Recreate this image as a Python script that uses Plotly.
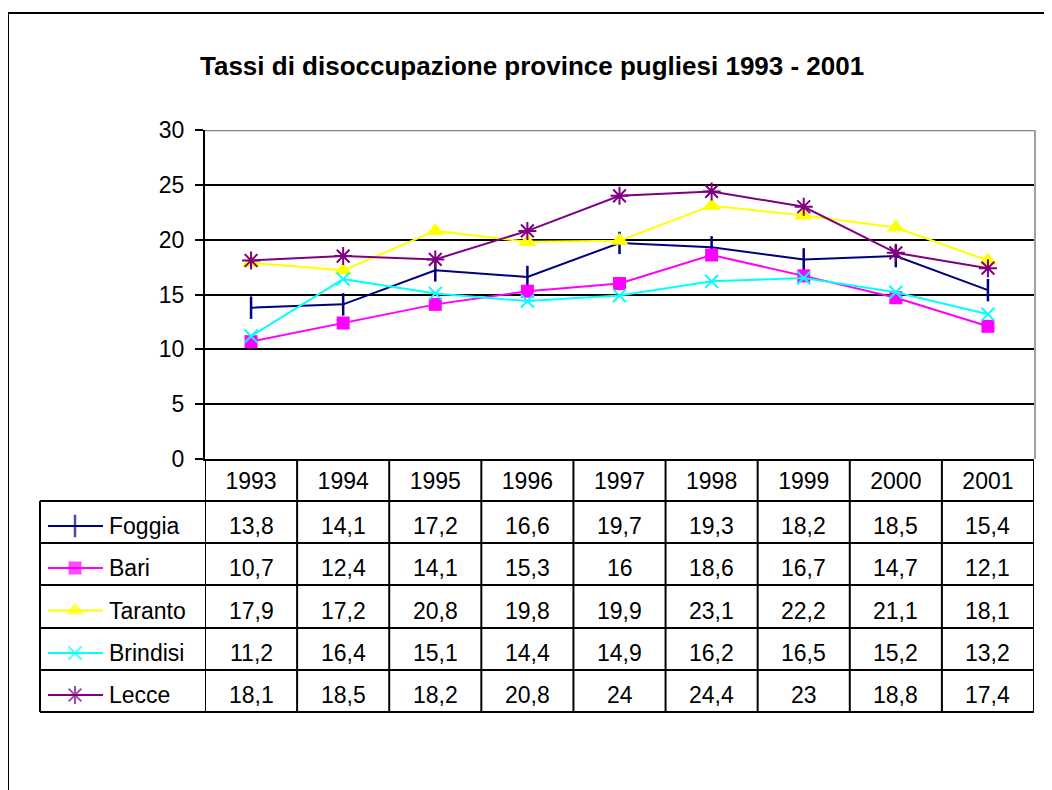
import plotly.graph_objects as go

# Dati: tassi di disoccupazione province pugliesi
years = ["1993", "1994", "1995", "1996", "1997", "1998", "1999", "2000", "2001"]
foggia = [13.8, 14.1, 17.2, 16.6, 19.7, 19.3, 18.2, 18.5, 15.4]
bari = [10.7, 12.4, 14.1, 15.3, 16, 18.6, 16.7, 14.7, 12.1]
taranto = [17.9, 17.2, 20.8, 19.8, 19.9, 23.1, 22.2, 21.1, 18.1]
brindisi = [11.2, 16.4, 15.1, 14.4, 14.9, 16.2, 16.5, 15.2, 13.2]
lecce = [18.1, 18.5, 18.2, 20.8, 24, 24.4, 23, 18.8, 17.4]

# la pagina ha un margine di 8px: figura 1044x782, coordinate in pixel della figura
OFF = 8
W, H = 1052 - OFF, 790 - OFF
PX0, PX1, PY0, PY1 = 205 - OFF, 1034 - OFF, 130 - OFF, 459 - OFF
ROWS = [r - OFF for r in (501, 543, 585, 628, 670, 712)]
FONT = "Arial, Liberation Sans, sans-serif"

series = [
    ("Foggia", foggia, "#000080", "line-ns", 16, 2.5),
    ("Bari", bari, "#FF00FF", "square", 13, 0),
    ("Taranto", taranto, "#FFFF00", "triangle-up", 16, 0),
    ("Brindisi", brindisi, "#00FFFF", "x-thin", 13, 2),
    ("Lecce", lecce, "#800080", "asterisk", 15, 2),
]


def fmt(v):
    s = str(int(v)) if float(v).is_integer() else str(v)
    return s.replace(".", ",")


fig = go.Figure()

for name, vals, color, sym, size, lw in series:
    fig.add_trace(go.Scatter(
        x=years, y=vals, mode="lines+markers", name=name,
        line=dict(color=color, width=2),
        marker=dict(symbol=sym, size=size, color=color,
                    line=dict(color=color, width=lw)),
        xaxis="x", yaxis="y", showlegend=False,
    ))

shapes = []
annotations = []

# tabella dati
for i, (name, vals, color, sym, size, lw) in enumerate(series):
    yc = (ROWS[i] + ROWS[i + 1]) / 2 + 4
    fig.add_trace(go.Scatter(
        x=[48 - OFF, 75 - OFF, 103 - OFF], y=[yc, yc, yc], mode="lines+markers",
        line=dict(color=color, width=2),
        marker=dict(symbol=sym, size=[0, size, 0], color=color,
                    line=dict(color=color, width=lw)),
        xaxis="x2", yaxis="y2", showlegend=False, hoverinfo="skip",
    ))
    annotations.append(dict(x=107 - OFF, y=yc, xref="x2", yref="y2", text=name,
                            showarrow=False, xanchor="left", yanchor="middle",
                            font=dict(size=23, color="black", family=FONT)))
    for j, v in enumerate(vals):
        annotations.append(dict(x=j, y=yc, xref="x", yref="y2", text=fmt(v),
                                showarrow=False, xanchor="center", yanchor="middle",
                                font=dict(size=23, color="black", family=FONT)))

for r in ROWS:
    shapes.append(dict(type="line", xref="x2", yref="y2", x0=40 - OFF, x1=PX1,
                       y0=r, y1=r, line=dict(color="black", width=2)))
shapes.append(dict(type="line", xref="x2", yref="y2", x0=40 - OFF, x1=40 - OFF,
                   y0=ROWS[0], y1=ROWS[-1], line=dict(color="black", width=2)))
for j in range(len(years) + 1):
    shapes.append(dict(type="line", xref="x", yref="y2", x0=j - 0.5, x1=j - 0.5,
                       y0=PY1, y1=ROWS[-1], line=dict(color="black", width=2)))

# bordo area del grafico (grigio) e cornice esterna
shapes.append(dict(type="line", xref="x", yref="y", x0=-0.5, x1=8.5, y0=30, y1=30,
                   line=dict(color="#808080", width=2.5)))
shapes.append(dict(type="line", xref="x2", yref="y2", x0=PX1 + 1, x1=PX1 + 1,
                   y0=PY0, y1=PY1, line=dict(color="#A0A0A0", width=2)))
shapes.append(dict(type="rect", xref="x2", yref="y2", x0=8 - OFF, x1=1070, y0=13 - OFF,
                   y1=810, line=dict(color="black", width=2)))

annotations.append(dict(x=532 - OFF, y=66 - OFF, xref="x2", yref="y2",
                        text="<b>Tassi di disoccupazione province pugliesi 1993 - 2001</b>",
                        showarrow=False, xanchor="center", yanchor="middle",
                        font=dict(size=26, color="black", family=FONT)))

fig.update_layout(
    template="none",
    width=W, height=H,
    margin=dict(l=0, r=0, t=0, b=0, pad=0),
    paper_bgcolor="white",
    plot_bgcolor="rgba(0,0,0,0)",
    font=dict(family=FONT, color="black"),
    xaxis=dict(
        domain=[PX0 / W, PX1 / W], type="category", range=[-0.5, 8.5],
        automargin=False, showgrid=False, zeroline=False, showline=True,
        linecolor="black", linewidth=2, ticks="",
        tickfont=dict(size=23, color="black"), ticklabelstandoff=0,
    ),
    yaxis=dict(
        domain=[(H - PY1) / H, (H - PY0) / H], range=[0, 30], dtick=5,
        automargin=False, showgrid=True, gridcolor="black", gridwidth=1.5,
        zeroline=False, showline=True, linecolor="black", linewidth=2,
        ticks="outside", ticklen=8, tickwidth=2, tickcolor="black",
        tickfont=dict(size=23, color="black"), ticklabelstandoff=6,
    ),
    xaxis2=dict(domain=[0, 1], range=[0, W], visible=False, anchor="y2",
                automargin=False, showgrid=False, zeroline=False),
    yaxis2=dict(domain=[0, 1], range=[H, 0], visible=False, anchor="x2",
                automargin=False, showgrid=False, zeroline=False),
    shapes=shapes,
    annotations=annotations,
)

fig.write_html("out.html")
